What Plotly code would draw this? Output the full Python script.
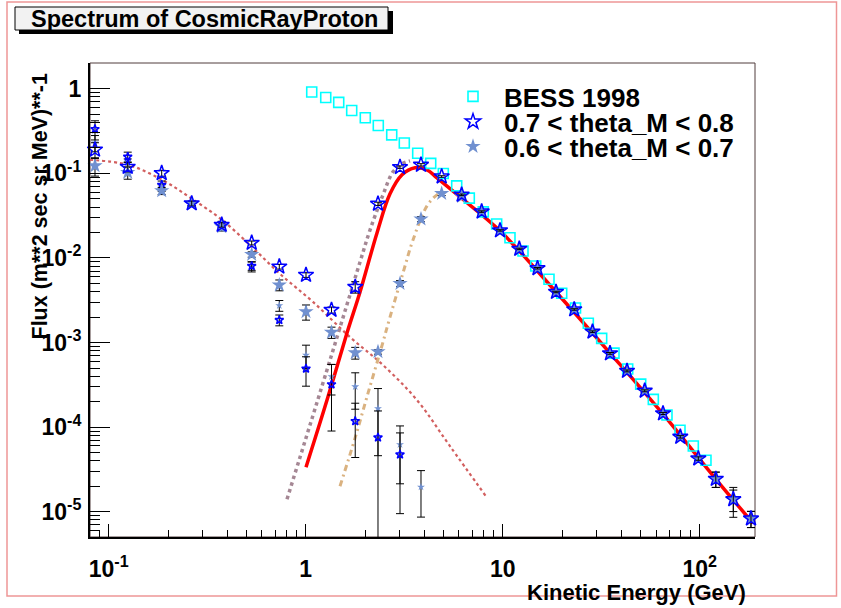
import plotly.graph_objects as go

# ---------------- data ----------------
bess_E = [1.073, 1.264, 1.471, 1.712, 2.007, 2.336, 2.733, 3.166, 3.703, 4.311,
          4.994, 5.842, 6.768, 7.97, 9.32, 10.89, 12.68, 14.71, 17.18, 19.93,
          23.42, 27.20, 31.80, 36.73, 43.10, 50.18, 58.15, 68.23, 79.43, 92.80, 107.6]
bess_F = [0.914, 0.789, 0.689, 0.554, 0.454, 0.368, 0.285, 0.228, 0.173, 0.131,
          0.0995, 0.0711, 0.0509, 0.035, 0.0252, 0.0173, 0.0121, 0.00804, 0.0056, 0.00382,
          0.00256, 0.00169, 0.00112, 7.5e-4, 4.86e-4, 3.23e-4, 2.13e-4, 1.39e-4, 9.2e-5, 6.0e-5, 4.07e-5]

star_E = [0.0852, 0.1249, 0.1858, 0.2638, 0.3747, 0.532, 0.7345, 1.0035, 1.352, 1.784,
          2.328, 3.011, 3.848, 4.90, 6.19, 7.82, 9.69, 12.14, 15.02, 18.65,
          23.07, 28.57, 35.05, 42.76, 52.59, 65.13, 79.7, 98.4, 120.7, 148.1, 182.1]

open_F = [0.190, 0.119, 0.1005, 0.0441, 0.0246, 0.01506, 0.00789, 0.00629, 0.00243, 0.00454,
          0.0436, 0.1184, 0.126, 0.0917, 0.0557, 0.0353, 0.02115, 0.01279, 0.00755, 0.00396,
          0.00246, 0.001343, 7.45e-4, 4.62e-4, 2.69e-4, 1.453e-4, 7.68e-5, 4.26e-5, 2.44e-5, 1.405e-5, 8.31e-6]
open_err = [0.04, 0.015, 0.008, 0.003, 0.0015, 0.0008, 0.0005, 0.0004, 0.0002, 0.0007,
            0.002, 0.004, 0.004, 0.002, 0.0012, 0.0007, 0.0004, 0.00025, 0.00015, 8e-5,
            5e-5, 3e-5, 1.8e-5, 1.2e-5, 7e-6, 4e-6, 2.5e-6, 2e-6, 5e-6, 4e-6, 1.8e-6]

fill_F = [0.1227, 0.1022, 0.0621, 0.0436, 0.0233, 0.0110, 0.00479, 0.00231, 0.00132, 7.57e-4,
          7.78e-4, 0.00499, 0.0288, 0.0577, 0.0531, 0.0353, 0.0211, 0.0128, 0.00755, 0.00396,
          0.00246, 0.00134, 7.45e-4, 4.62e-4, 2.69e-4, 1.45e-4, 7.7e-5, 4.26e-5, 2.44e-5, 1.4e-5, 8.3e-6]
fill_err = [0.03, 0.017, 0.006, 0.003, 0.0015, 0.0008, 0.0007, 0.00047, 0.0002, 1.2e-4,
            5e-5, 4e-4, 0.002, 0.003, 0.002, 0.0012, 0.0007, 0.0004, 0.00025, 0.00015,
            8e-5, 5e-5, 3e-5, 1.8e-5, 1.2e-5, 7e-6, 4e-6, 2.5e-6, 5e-6, 5.4e-6, 1.8e-6]

small_open_E = star_E[:12]
small_open_F = [0.333, 0.157, 0.0731, 0.0436, 0.0256, 0.00804, 0.001846, 4.92e-4, 3.20e-4, 1.178e-4,
                7.55e-5, 4.75e-5]
small_open_err = [0.085, 0.021, 0.008, 0.002, 0.0015, 0.0009, 0.00027, 1.87e-4, 2.3e-4, 7.4e-5,
                  8.0e-5, 3.8e-5]

small_fill_E = star_E[:13]
small_fill_F = [0.2297, 0.133, 0.0673, 0.0436, 0.0220, 0.00793, 0.00274, 7.11e-4, 3.96e-4, 3.01e-4,
                1.66e-4, 6.24e-5, 1.965e-5]
small_fill_err = [0.05, 0.015, 0.006, 0.002, 0.0012, 0.0011, 0.0004, 2.2e-4, 1.56e-4, 1.38e-4,
                  1.2e-4, 4.1e-5, 1.1e-5]

# fitted curves
atm_E = [0.0804, 0.1253, 0.1866, 0.2649, 0.3758, 0.5336, 0.7406, 1.089, 1.679, 2.468, 3.672, 5.40, 8.22]
atm_F = [0.1445, 0.1261, 0.0838, 0.0499, 0.0282, 0.0135, 0.00647, 0.00302, 0.00116, 5.42e-4, 2.09e-4, 5.96e-5, 1.525e-5]

fit_E = [1.0035, 1.283, 1.620, 1.887, 2.301, 2.679, 3.083, 3.588, 4.128, 4.640, 6.07, 9.69,
         18.65, 35.05, 65.13, 121.0, 186.5]
fit_F = [3.36e-5, 2.09e-4, 1.295e-3, 3.96e-3, 0.01977, 0.0572, 0.0960, 0.1161, 0.1100, 0.0885, 0.0527, 0.0209,
         3.96e-3, 7.51e-4, 1.425e-4, 2.42e-5, 7.31e-6]

c1_E = [0.8037, 1.329, 1.887, 2.121, 2.469, 2.775, 3.083, 3.384]
c1_F = [1.406e-5, 6.21e-4, 8.97e-3, 0.0214, 0.0557, 0.1042, 0.1295, 0.1406]

c2_E = [1.493, 1.780, 2.072, 2.411, 2.679, 3.118, 3.505, 4.128, 4.640, 5.216]
c2_F = [2.00e-5, 7.41e-5, 2.52e-4, 8.38e-4, 2.00e-3, 6.64e-3, 0.01634, 0.0412, 0.0557, 0.0638]

x_tickvals = [0.1, 1, 10, 100]
x_ticktext = ['10<sup>-1</sup>', '1', '10', '10<sup>2</sup>']
y_tickvals = [1e-5, 1e-4, 1e-3, 1e-2, 1e-1, 1]
y_ticktext = ['10<sup>-5</sup>', '10<sup>-4</sup>', '10<sup>-3</sup>', '10<sup>-2</sup>', '10<sup>-1</sup>', '1']
x_minor = [0.09] + [m * d for d in (0.1, 1, 10) for m in range(2, 10)]
y_minor = [m * d for d in (1e-6, 1e-5, 1e-4, 1e-3, 1e-2, 1e-1, 1) for m in range(2, 10)]

# ---------------- layout geometry ----------------
W, H = 841, 608
L, R, T, B = 90, 86, 63, 71
PW, PH = W - L - R, H - T - B


def px(x):
    return (x - L) / PW


def py(y):
    return (H - B - y) / PH


FONT = 'Liberation Sans'
STAR_FILL = 'rgb(112,144,208)'

fig = go.Figure()

fig.add_trace(go.Scatter(x=atm_E, y=atm_F, mode='lines', line=dict(color='rgb(210,95,95)', width=2.2, dash='dot', shape='spline'),
                         showlegend=False, hoverinfo='skip'))
fig.add_trace(go.Scatter(x=c1_E, y=c1_F, mode='lines', line=dict(color='rgb(165,135,148)', width=3.5, dash='dot', shape='spline'),
                         showlegend=False, hoverinfo='skip'))
fig.add_trace(go.Scatter(x=c2_E, y=c2_F, mode='lines', line=dict(color='rgb(218,178,128)', width=3, dash='6px,4px,2px,4px', shape='spline'),
                         showlegend=False, hoverinfo='skip'))
fig.add_trace(go.Scatter(x=fit_E, y=fit_F, mode='lines', line=dict(color='rgb(255,0,0)', width=3.5, shape='spline'),
                         showlegend=False, hoverinfo='skip'))

fig.add_trace(go.Scatter(x=bess_E, y=bess_F, mode='markers', name='BESS 1998', legend='legend',
                         marker=dict(symbol='square-open', size=10, color='rgb(0,255,255)', line=dict(width=1.6)),
                         cliponaxis=False))

fig.add_trace(go.Scatter(x=small_fill_E, y=small_fill_F, mode='markers', showlegend=False,
                         marker=dict(symbol='star', size=6, color=STAR_FILL, line=dict(width=0)),
                         error_y=dict(type='data', array=small_fill_err, color='black', thickness=1, width=4)))
fig.add_trace(go.Scatter(x=small_open_E, y=small_open_F, mode='markers', showlegend=False,
                         marker=dict(symbol='star-open', size=6.5, color='rgb(0,0,255)', line=dict(width=1.5)),
                         error_y=dict(type='data', array=small_open_err, color='black', thickness=1, width=4)))
fig.add_trace(go.Scatter(x=star_E, y=fill_F, mode='markers', name='0.6 < theta_M < 0.7', legend='legend3',
                         marker=dict(symbol='star', size=11.5, color=STAR_FILL, line=dict(width=0)),
                         error_y=dict(type='data', array=fill_err, color='black', thickness=1, width=4),
                         cliponaxis=False))
fig.add_trace(go.Scatter(x=star_E, y=open_F, mode='markers', name='0.7 < theta_M < 0.8', legend='legend2',
                         marker=dict(symbol='star-open', size=11.5, color='rgb(0,0,255)', line=dict(width=1.5)),
                         error_y=dict(type='data', array=open_err, color='black', thickness=1, width=4),
                         cliponaxis=False))

axis_common = dict(type='log', showgrid=False, zeroline=False, showline=True, linewidth=2, linecolor='black',
                   mirror=False, ticks='inside', tickcolor='black', tickwidth=1, tickmode='array',
                   tickfont=dict(family=FONT, size=23, color='black', weight='bold'))

fig.update_xaxes(**axis_common, range=[-1.0949, 2.2807], tickvals=x_tickvals, ticktext=x_ticktext,
                 ticklen=13, ticklabelstandoff=10,
                 minor=dict(tickmode='array', tickvals=x_minor, ticks='inside', ticklen=7, tickcolor='black', tickwidth=1))
fig.update_yaxes(**axis_common, range=[-5.2982, 0.3041], tickvals=y_tickvals, ticktext=y_ticktext,
                 ticklen=20, ticklabelstandoff=2,
                 minor=dict(tickmode='array', tickvals=y_minor, ticks='inside', ticklen=10, tickcolor='black', tickwidth=1))

legend_common = dict(xanchor='left', yanchor='middle', bgcolor='rgba(0,0,0,0)', borderwidth=0, itemwidth=52,
                     font=dict(family=FONT, size=26, color='black', weight='bold'))
leg_x = px(504 - 62)

shapes = [
    # canvas border
    dict(type='rect', xref='paper', yref='paper', x0=px(7), x1=px(836.5), y0=py(596), y1=py(2),
         line=dict(color='rgb(238,150,150)', width=1.5), layer='below'),
    # frame
    dict(type='rect', xref='paper', yref='paper', x0=0, x1=1, y0=0, y1=1,
         line=dict(color='rgb(80,60,60)', width=1), layer='below'),
    # title shadow and box
    dict(type='rect', xref='paper', yref='paper', x0=px(19), x1=px(393), y0=py(34), y1=py(11),
         fillcolor='black', line=dict(width=0), layer='above'),
    dict(type='rect', xref='paper', yref='paper', x0=px(15), x1=px(388), y0=py(30), y1=py(7),
         fillcolor='rgb(242,242,242)', line=dict(color='black', width=1), layer='above'),
]

annotations = [
    dict(text='Spectrum of CosmicRayProton', xref='paper', yref='paper', x=px(204), y=py(19.5),
         xanchor='center', yanchor='middle', showarrow=False,
         font=dict(family=FONT, size=23.5, color='black', weight='bold')),
    dict(text='Kinetic Energy (GeV)', xref='paper', yref='paper', x=px(748), y=py(592),
         xanchor='right', yanchor='middle', showarrow=False,
         font=dict(family=FONT, size=22, color='black', weight='bold')),
    dict(text='Flux (m**2 sec sr MeV)**-1', xref='paper', yref='paper', x=px(39), y=py(71),
         xanchor='center', yanchor='top', textangle=-90, showarrow=False,
         font=dict(family=FONT, size=21.5, color='black', weight='bold')),
]

fig.update_layout(
    width=W, height=H, margin=dict(l=L, r=R, t=T, b=B, autoexpand=False),
    paper_bgcolor='white', plot_bgcolor='white',
    legend=dict(**legend_common, x=leg_x, y=py(96.5)),
    legend2=dict(**legend_common, x=leg_x, y=py(121.7)),
    legend3=dict(**legend_common, x=leg_x, y=py(146.5)),
    shapes=shapes, annotations=annotations,
)

fig.write_html('out.html')
